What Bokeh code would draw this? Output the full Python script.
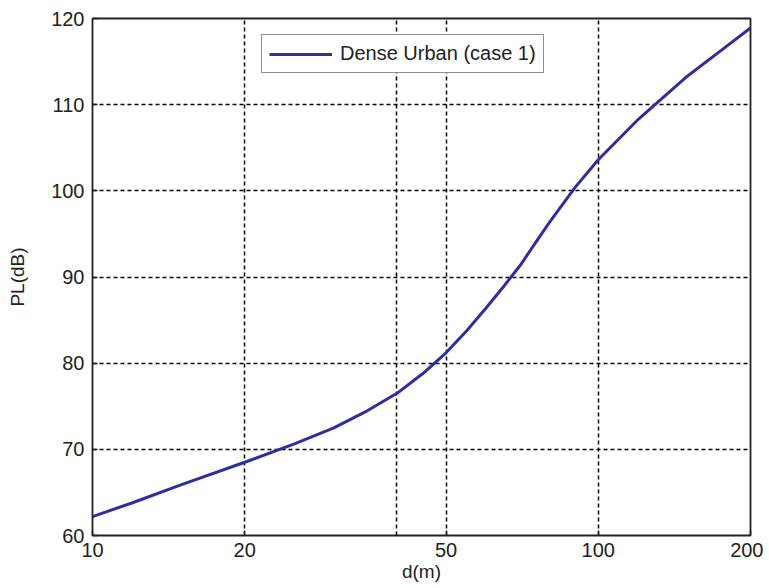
from bokeh.plotting import figure
from bokeh.models import Range1d, FixedTicker, NumeralTickFormatter, Legend, LegendItem
from bokeh.embed import file_html
from bokeh.resources import INLINE

# Data
distance_m = [10, 12, 15, 20, 25, 30, 35, 40, 45, 50, 55, 60, 65, 70, 75, 80, 90, 100, 120, 150, 175, 200]
path_loss_db = [62.2, 63.8, 65.9, 68.5, 70.6, 72.5, 74.5, 76.5, 78.8, 81.2, 83.8, 86.4, 88.9, 91.3,
                93.9, 96.3, 100.4, 103.6, 108.3, 113.3, 116.3, 118.9]
x_ticks = [10, 20, 50, 100, 200]
x_grid = [20, 40, 50, 100, 200]
y_ticks = [60, 70, 80, 90, 100, 110, 120]
y_grid = [70, 80, 90, 100, 110]
series_name = "Dense Urban (case 1)"

FONT = "Liberation Sans"
LINE_COLOR = "#2e2e9e"
TXT = "#222222"

p = figure(width=763, height=588, x_axis_type="log",
           x_range=Range1d(10, 200), y_range=Range1d(60, 120),
           output_backend="svg", toolbar_location=None,
           min_border_left=92, min_border_right=13, min_border_top=18, min_border_bottom=53)
p.background_fill_color = "white"
p.border_fill_color = "white"
p.outline_line_color = TXT
p.outline_line_width = 1.8
p.outline_line_alpha = 1.0

r = p.line(distance_m, path_loss_db, line_color=LINE_COLOR, line_width=3)

# axes
for ax in (p.xaxis[0], p.yaxis[0]):
    ax.axis_line_color = None
    ax.major_tick_in = 5
    ax.major_tick_out = 0
    ax.major_tick_line_color = TXT
    ax.major_tick_line_width = 1.5
    ax.minor_tick_line_color = None
    ax.major_label_text_font = FONT
    ax.major_label_text_font_size = "20px"
    ax.major_label_text_color = TXT
    ax.axis_label_text_font = FONT
    ax.axis_label_text_font_style = "normal"
    ax.axis_label_text_color = TXT
    ax.axis_label_text_font_size = "19px"

p.xaxis[0].ticker = FixedTicker(ticks=x_ticks)
p.xaxis[0].formatter = NumeralTickFormatter(format="0")
p.xaxis[0].major_label_standoff = 7
p.xaxis[0].axis_label = "d(m)"
p.xaxis[0].axis_label_standoff = 1

p.yaxis[0].ticker = FixedTicker(ticks=y_ticks)
p.yaxis[0].major_label_standoff = 8
p.yaxis[0].axis_label = "PL(dB)"
p.yaxis[0].axis_label_standoff = 20

# grid
p.xgrid[0].ticker = FixedTicker(ticks=x_grid)
p.ygrid[0].ticker = FixedTicker(ticks=y_grid)
for g in (p.xgrid[0], p.ygrid[0]):
    g.grid_line_color = "black"
    g.grid_line_dash = "4 3"
    g.grid_line_width = 1.5
    g.grid_line_alpha = 1.0

# legend
legend = Legend(items=[LegendItem(label=series_name, renderers=[r])],
                location=(169, 462))
legend.border_line_color = TXT
legend.border_line_width = 1.8
legend.background_fill_color = "white"
legend.background_fill_alpha = 1.0
legend.label_text_font = FONT
legend.label_text_font_size = "20px"
legend.label_text_color = TXT
legend.glyph_width = 63
legend.glyph_height = 20
legend.label_standoff = 8
legend.padding = 7
legend.margin = 0
legend.spacing = 0
p.add_layout(legend, "center")

open("out.html", "w").write(file_html(p, INLINE))
